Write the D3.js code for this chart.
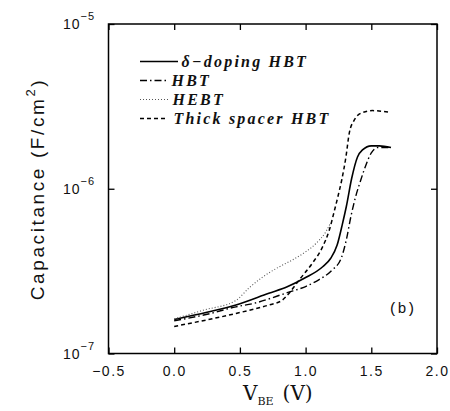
<!DOCTYPE html>
<html><head><meta charset="utf-8">
<script src="https://cdn.jsdelivr.net/npm/d3@7/dist/d3.min.js"></script>
<style>body{margin:0;background:#fff}</style>
</head><body>
<svg id="c" width="450" height="411" xmlns="http://www.w3.org/2000/svg"></svg>
<script>
// ---- data ----
const xTicks = [-0.5, 0.0, 0.5, 1.0, 1.5, 2.0];
const xTickLabels = ["−0.5", "0.0", "0.5", "1.0", "1.5", "2.0"];
const yTicks = [1e-7, 1e-6, 1e-5];
const yTickExps = ["−7", "−6", "−5"];
const seriesNames = ["δ−doping HBT", "HBT", "HEBT", "Thick spacer HBT"];

const deltaV = [0.0, 0.25, 0.47, 0.72, 0.86, 0.99, 1.13, 1.19, 1.24, 1.28, 1.31, 1.35, 1.395, 1.433, 1.50, 1.56, 1.65];
const deltaC = [1.61e-7, 1.78e-7, 1.97e-7, 2.32e-7, 2.54e-7, 2.86e-7, 3.36e-7, 3.77e-7, 4.55e-7, 6.1e-7, 7.8e-7, 1.15e-6, 1.56e-6, 1.72e-6, 1.82e-6, 1.82e-6, 1.78e-6];

const hbtV = [0.0, 0.25, 0.47, 0.6, 0.86, 1.0, 1.1, 1.2, 1.27, 1.31, 1.345, 1.38, 1.42, 1.46, 1.50, 1.55, 1.65];
const hbtC = [1.58e-7, 1.73e-7, 1.92e-7, 2.01e-7, 2.34e-7, 2.55e-7, 2.8e-7, 3.2e-7, 3.77e-7, 4.9e-7, 6.8e-7, 8.9e-7, 1.13e-6, 1.4e-6, 1.65e-6, 1.78e-6, 1.78e-6];

const hebtV = [0.0, 0.22, 0.47, 0.57, 0.67, 0.8, 0.9, 1.0, 1.08, 1.155, 1.19];
const hebtC = [1.62e-7, 1.83e-7, 2.1e-7, 2.5e-7, 2.9e-7, 3.36e-7, 3.7e-7, 4.14e-7, 4.66e-7, 5.5e-7, 6.2e-7];

const thickV = [0.0, 0.25, 0.47, 0.72, 0.82, 0.87, 0.95, 1.05, 1.13, 1.18, 1.22, 1.245, 1.275, 1.307, 1.332, 1.37, 1.42, 1.51, 1.65];
const thickC = [1.46e-7, 1.6e-7, 1.75e-7, 1.97e-7, 2.1e-7, 2.3e-7, 2.79e-7, 3.52e-7, 4.45e-7, 5.6e-7, 7.4e-7, 8.9e-7, 1.13e-6, 1.56e-6, 2.17e-6, 2.61e-6, 2.87e-6, 2.98e-6, 2.9e-6];

// ---- layout ----
const L = 108.5, R = 437, T = 24, B = 353.5;
const svg = d3.select("#c");
const x = d3.scaleLinear().domain([-0.5, 2.0]).range([L, R]);
const y = d3.scaleLog().domain([1e-7, 1e-5]).range([B, T]);

const series = [
  {name: seriesNames[0], v: deltaV, c: deltaC, dash: null, w: 1.6, col: "#000"},
  {name: seriesNames[1], v: hbtV, c: hbtC, dash: "7,3,1.5,3", w: 1.4, col: "#000"},
  {name: seriesNames[2], v: hebtV, c: hebtC, dash: "1,2", w: 1.1, col: "#555"},
  {name: seriesNames[3], v: thickV, c: thickC, dash: "4,3", w: 1.5, col: "#000"}
];

const line = d3.line().x(d => x(d[0])).y(d => y(d[1])).curve(d3.curveMonotoneX);

const plot = svg.append("g");
series.forEach(s => {
  plot.append("path")
    .attr("d", line(s.v.map((v, i) => [v, s.c[i]])))
    .attr("fill", "none").attr("stroke", s.col).attr("stroke-width", s.w)
    .attr("stroke-dasharray", s.dash);
});

// frame
svg.append("rect").attr("x", L).attr("y", T).attr("width", R - L).attr("height", B - T)
  .attr("fill", "none").attr("stroke", "#000").attr("stroke-width", 1.5);

// x axis ticks (inside, bottom & top)
const xAxisB = d3.axisBottom(x).tickValues(xTicks).tickSize(-6).tickFormat((d, i) => xTickLabels[i]);
const gxb = svg.append("g").attr("transform", `translate(0,${B})`).call(xAxisB);
gxb.select(".domain").remove();
gxb.selectAll(".tick line").attr("stroke-width", 1.3);
gxb.selectAll(".tick text").attr("y", 12.5).attr("dy", 0)
  .style("font-family", "'Liberation Sans', Arial, sans-serif").style("font-size", "14px")
  .style("letter-spacing", "1.5px").attr("fill", "#111").attr("dominant-baseline", "hanging");
const xAxisT = d3.axisTop(x).tickValues(xTicks).tickSize(-6).tickFormat("");
const gxt = svg.append("g").attr("transform", `translate(0,${T})`).call(xAxisT);
gxt.select(".domain").remove();
gxt.selectAll(".tick line").attr("stroke-width", 1.3);

// y ticks (inside, left & right)
const yAxisL = d3.axisLeft(y).tickValues(yTicks).tickSize(-6).tickFormat("");
const gyl = svg.append("g").attr("transform", `translate(${L},0)`).call(yAxisL);
gyl.select(".domain").remove();
gyl.selectAll(".tick line").attr("stroke-width", 1.3);
const yAxisR = d3.axisRight(y).tickValues(yTicks).tickSize(-6).tickFormat("");
const gyr = svg.append("g").attr("transform", `translate(${R},0)`).call(yAxisR);
gyr.select(".domain").remove();
gyr.selectAll(".tick line").attr("stroke-width", 1.3);

// y tick labels 10^-n
yTicks.forEach((t, i) => {
  const tx = svg.append("text").attr("x", 63).attr("y", y(t) + 5)
    .style("font-family", "'Liberation Sans', Arial, sans-serif").style("font-size", "14px")
    .style("letter-spacing", "1px").attr("fill", "#111");
  tx.append("tspan").text("10");
  tx.append("tspan").attr("dy", -9).style("font-size", "11px").text(yTickExps[i]);
});

// axis titles
const yt = svg.append("text")
  .attr("transform", `translate(44,189) rotate(-90)`)
  .attr("text-anchor", "middle")
  .style("font-family", "'Liberation Sans', Arial, sans-serif").style("font-size", "19px")
  .style("letter-spacing", "2.6px").attr("fill", "#111");
yt.append("tspan").text("Capacitance (F/cm");
yt.append("tspan").attr("dy", -9).style("font-size", "13px").text("2");
yt.append("tspan").attr("dy", 9).text(")");

const xt = svg.append("text").attr("x", 243).attr("y", 400)
  .style("font-family", "'DejaVu Serif', 'Liberation Serif', serif").style("font-size", "20px")
  .attr("fill", "#111");
xt.append("tspan").text("V");
xt.append("tspan").attr("dy", 5).style("font-size", "11px").text("BE");
xt.append("tspan").attr("dy", -5).attr("dx", 9).text("(V)");

// (b)
svg.append("text").attr("x", 402).attr("y", 313).attr("text-anchor", "middle")
  .style("font-family", "'Liberation Mono', 'DejaVu Sans Mono', monospace").style("font-size", "15px")
  .attr("fill", "#111").text("(b)");

// legend
const legY = [61.5, 80.5, 99.5, 118.5];
const legX1 = [178, 168, 170, 168];
const legTX = [181.5, 171.5, 172.5, 173.5];
series.forEach((s, i) => {
  svg.append("line").attr("x1", 140).attr("x2", legX1[i]).attr("y1", legY[i]).attr("y2", legY[i])
    .attr("stroke", s.col).attr("stroke-width", s.w).attr("stroke-dasharray", s.dash);
  svg.append("text").attr("x", legTX[i]).attr("y", legY[i] + 5)
    .style("font-family", "'Liberation Serif', 'DejaVu Serif', serif").style("font-size", "16px")
    .style("font-style", "italic").style("font-weight", "bold").style("letter-spacing", "2.2px")
    .attr("fill", "#111").text(s.name);
});
</script>
</body></html>
